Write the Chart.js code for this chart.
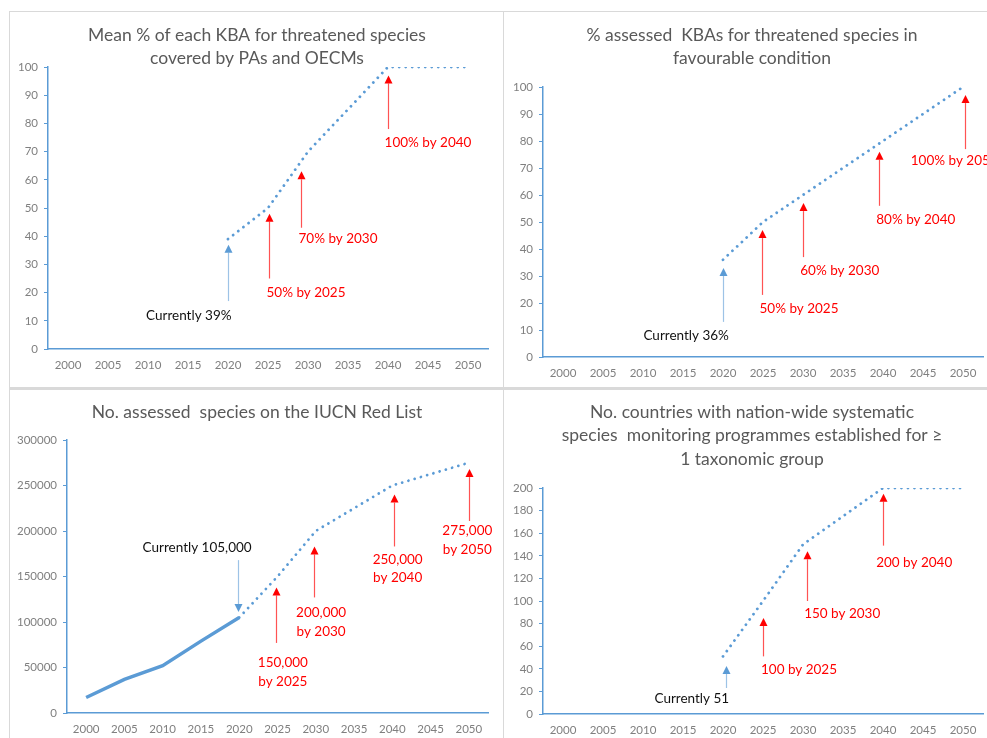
<!DOCTYPE html>
<html>
<head>
<meta charset="utf-8">
<script src="https://cdn.jsdelivr.net/npm/chart.js@4.4.1/dist/chart.umd.min.js"></script>
<style>
  body { margin: 0; background: #fff; width: 987px; height: 738px; overflow: hidden; position: relative; }
  .panel { position: absolute; }
  .rule { position: absolute; background: #d9d9d9; }
</style>
</head>
<body>
<div class="rule" style="left:9px;top:11px;width:978px;height:1px"></div>
<div class="rule" style="left:9px;top:11px;width:1px;height:727px"></div>
<div class="rule" style="left:503px;top:11px;width:1px;height:727px"></div>
<div class="rule" style="left:9px;top:387px;width:978px;height:3px"></div>

<div class="panel" style="left:10px;top:12px;width:493px;height:375px"><canvas id="c1"></canvas></div>
<div class="panel" style="left:504px;top:12px;width:483px;height:375px"><canvas id="c2"></canvas></div>
<div class="panel" style="left:10px;top:390px;width:493px;height:348px"><canvas id="c3"></canvas></div>
<div class="panel" style="left:504px;top:390px;width:483px;height:348px"><canvas id="c4"></canvas></div>

<script>
// x categories shared by all four charts
const years = ['2000', '2005', '2010', '2015', '2020', '2025', '2030', '2035', '2040', '2045', '2050'];

// chart 1 - mean % of each KBA covered by PAs and OECMs
const kbaCoverTitle = ['Mean % of each KBA for threatened species', 'covered by PAs and OECMs'];
const kbaCoverTarget = [null, null, null, null, 39, 50, 70, null, 100, 100, 100];

// chart 2 - % assessed KBAs in favourable condition
const kbaConditionTitle = ['% assessed  KBAs for threatened species in', 'favourable condition'];
const kbaConditionTarget = [null, null, null, null, 36, 50, 60, null, 80, null, 100];

// chart 3 - assessed species on the Red List
const redListTitle = ['No. assessed  species on the IUCN Red List'];
const redListActual = [17000, 37000, 52000, 79000, 105000, null, null, null, null, null, null];
const redListTarget = [null, null, null, null, 105000, 150000, 200000, null, 250000, null, 275000];

// chart 4 - countries with monitoring programmes
const monitoringTitle = ['No. countries with nation-wide systematic', 'species  monitoring programmes established for \u2265', '1 taxonomic group'];
const monitoringTarget = [null, null, null, null, 51, 100, 150, null, 200, 200, 200];

// callouts: year of arrow, tail value, tip value, text lines
const kbaCoverNotes = [
  { year: 2020, from: 17, to: 37, text: ['Currently 39%'], now: true },
  { year: 2025.1, from: 25, to: 48, text: ['50% by 2025'] },
  { year: 2029.1, from: 43, to: 63, text: ['70% by 2030'] },
  { year: 2040, from: 78, to: 97, text: ['100% by 2040'] }
];
const kbaCoverTextAt = [[2015.1, 12], [2029.75, 20], [2033.75, 39], [2045, 73]];

const kbaConditionNotes = [
  { year: 2020, from: 13, to: 33, text: ['Currently 36%'], now: true },
  { year: 2024.9, from: 23, to: 47, text: ['50% by 2025'] },
  { year: 2030, from: 37, to: 57, text: ['60% by 2030'] },
  { year: 2039.5, from: 56, to: 76, text: ['80% by 2040'] },
  { year: 2050.2, from: 77, to: 97, text: ['100% by 2050'] }
];
const kbaConditionTextAt = [[2015.4, 7.8], [2029.5, 17.8], [2034.6, 32], [2044.1, 51], [2048.9, 72.6]];

const redListNotes = [
  { year: 2019.9, from: 168000, to: 111000, text: ['Currently 105,000'], now: true },
  { year: 2024.8, from: 77000, to: 138000, text: ['150,000', 'by 2025'] },
  { year: 2029.8, from: 127000, to: 183000, text: ['200,000', 'by 2030'] },
  { year: 2040.2, from: 183000, to: 240000, text: ['250,000', 'by 2040'] },
  { year: 2050, from: 211000, to: 268000, text: ['275,000', 'by 2050'] }
];
const redListTextAt = [[2014.5, 182000], [2025.7, 55000], [2030.7, 110000], [2040.7, 169000], [2049.8, 200000]];

const monitoringNotes = [
  { year: 2020.4, from: 23, to: 42.5, text: ['Currently 51'], now: true },
  { year: 2025, from: 51, to: 85, text: ['100 by 2025'] },
  { year: 2030.5, from: 100, to: 144, text: ['150 by 2030'] },
  { year: 2040, from: 149, to: 195, text: ['200 by 2040'] }
];
const monitoringTextAt = [[2016.1, 14], [2029.5, 39], [2034.9, 88.5], [2043.9, 133.6]];

const BLUE = '#5b9bd5';
const FONT = 'Lato, "Open Sans", sans-serif';

const panels = [
  { id: 'c1', w: 493, h: 375, area: { l: 38, t: 55, r: 478, b: 337 }, yMax: 100, yStep: 10,
    title: kbaCoverTitle, titleX: 247, titleY: [23, 46],
    series: [{ data: kbaCoverTarget, dotted: true }], notes: kbaCoverNotes, textAt: kbaCoverTextAt },
  { id: 'c2', w: 483, h: 375, area: { l: 39, t: 75, r: 479, b: 345 }, yMax: 100, yStep: 10,
    title: kbaConditionTitle, titleX: 248, titleY: [23, 46],
    series: [{ data: kbaConditionTarget, dotted: true }], notes: kbaConditionNotes, textAt: kbaConditionTextAt },
  { id: 'c3', w: 493, h: 348, area: { l: 57, t: 50, r: 478, b: 323 }, yMax: 300000, yStep: 50000,
    title: redListTitle, titleX: 247, titleY: [22],
    series: [{ data: redListActual, dotted: false }, { data: redListTarget, dotted: true }],
    notes: redListNotes, textAt: redListTextAt },
  { id: 'c4', w: 483, h: 348, area: { l: 39, t: 98, r: 479, b: 324 }, yMax: 200, yStep: 20,
    title: monitoringTitle, titleX: 248, titleY: [22, 45, 69],
    series: [{ data: monitoringTarget, dotted: true }], notes: monitoringNotes, textAt: monitoringTextAt }
];

function drawArrow(ctx, x, y1, y2, shaft, head) {
  const dir = Math.sign(y2 - y1);
  const hl = 8;
  ctx.strokeStyle = shaft;
  ctx.lineWidth = 1.2;
  ctx.beginPath();
  ctx.moveTo(x, y1);
  ctx.lineTo(x, y2 - dir * hl);
  ctx.stroke();
  ctx.fillStyle = head;
  ctx.beginPath();
  ctx.moveTo(x, y2);
  ctx.lineTo(x - 4, y2 - dir * hl);
  ctx.lineTo(x + 4, y2 - dir * hl);
  ctx.closePath();
  ctx.fill();
}

function notesPlugin(p) {
  return {
    id: 'notes',
    afterDatasetsDraw(chart) {
      const ctx = chart.ctx;
      const xs = chart.scales.x, ys = chart.scales.y;
      const px = yr => xs.getPixelForValue((yr - 2000) / 5);
      ctx.save();
      p.notes.forEach((n, i) => {
        const x = Math.round(px(n.year)) + 0.5;
        if (n.now) drawArrow(ctx, x, ys.getPixelForValue(n.from), ys.getPixelForValue(n.to), '#9dc3e6', BLUE);
        else drawArrow(ctx, x, ys.getPixelForValue(n.from), ys.getPixelForValue(n.to), 'rgba(255,40,40,0.8)', '#ff0000');
        const [ty, tv] = p.textAt[i];
        ctx.font = '13.5px ' + FONT;
        ctx.fillStyle = n.now ? '#111' : '#ff0000';
        ctx.textAlign = 'center';
        ctx.textBaseline = 'middle';
        n.text.forEach((t, k) => ctx.fillText(t, px(ty), ys.getPixelForValue(tv) + k * 18.5));
      });
      // title
      ctx.font = '17.5px ' + FONT;
      ctx.fillStyle = '#595959';
      p.title.forEach((t, k) => ctx.fillText(t, p.titleX, p.titleY[k]));
      ctx.restore();
    }
  };
}

panels.forEach(p => {
  new Chart(document.getElementById(p.id), {
    type: 'line',
    data: {
      labels: years,
      datasets: p.series.map(s => ({
        data: s.data,
        borderColor: BLUE,
        borderWidth: s.dotted ? 2.8 : 3.5,
        borderDash: s.dotted ? [0.01, 6.5] : [],
        borderCapStyle: s.dotted ? 'round' : 'butt',
        pointRadius: 0,
        spanGaps: true,
        tension: 0,
        fill: false
      }))
    },
    options: {
      responsive: true,
      maintainAspectRatio: false,
      animation: false,
      layout: { padding: { left: 0, top: p.area.t, right: p.w - p.area.r, bottom: 0 } },
      plugins: { legend: { display: false }, tooltip: { enabled: false }, title: { display: false } },
      scales: {
        x: {
          offset: true,
          grid: { drawOnChartArea: false, drawTicks: false },
          border: { display: true, color: BLUE, width: 1.5 },
          ticks: { color: '#7f7f7f', font: { family: FONT, size: 11.5 }, padding: 9, maxRotation: 0, autoSkip: false },
          afterFit: s => { s.height = p.h - p.area.b; }
        },
        y: {
          min: 0,
          max: p.yMax,
          grid: { drawOnChartArea: false, drawTicks: true, tickLength: 4, tickColor: BLUE },
          border: { display: true, color: BLUE, width: 1.5 },
          ticks: { stepSize: p.yStep, color: '#7f7f7f', font: { family: FONT, size: 11.5 }, padding: 6,
                   callback: v => String(v) },
          afterFit: s => { s.width = p.area.l; }
        }
      }
    },
    plugins: [notesPlugin(p)]
  });
});
</script>
</body>
</html>
